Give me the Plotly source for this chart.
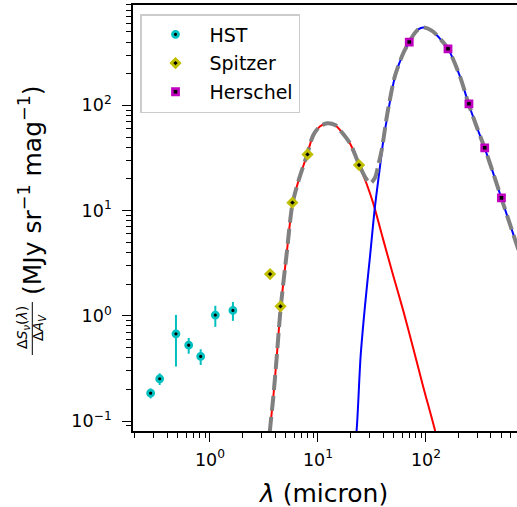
import plotly.graph_objects as go

# ---------------- data ----------------
hst_wave = [0.282, 0.342, 0.484, 0.635, 0.82, 1.12, 1.63]
hst_flux = [0.184, 0.252, 0.674, 0.526, 0.411, 1.015, 1.125]
hst_err = [0.02, 0.032, 0.345, 0.09, 0.07, 0.23, 0.23]

spitzer_wave = [3.6, 4.5, 5.8, 8.0, 24.0]
spitzer_flux = [2.49, 1.23, 11.9, 34.2, 27.1]

herschel_wave = [70, 160, 250, 350, 500]
herschel_flux = [400, 345, 103.5, 39.5, 13.2]

hot_wave = [3.45, 3.59, 3.86, 4.15, 4.51, 5.13, 5.8, 6.58, 7.85, 9.04, 10.4, 12.2,
            14.4, 16.0, 19.8, 24.1, 28.2, 32.5, 40.3, 49.8, 61.6, 76.3, 94.4, 121, 135]
hot_flux = [0.05, 0.082, 0.17, 0.408, 1.18, 3.9, 11.5, 19.0, 33.0, 52.0, 63.0, 67.5,
            65.0, 58.2, 43.5, 27.1, 18.0, 11.7, 5.24, 2.4, 1.12, 0.49, 0.211, 0.082, 0.05]

cold_wave = [21.5, 22.8, 24.8, 27.2, 30.3, 33.7, 37.5, 40.3, 43.3, 51.6, 61.6, 70, 76.3,
             84.9, 94.4, 105, 117, 130, 160, 206, 248, 295, 349, 420, 498, 720]
cold_flux = [0.05, 0.082, 0.408, 1.22, 3.64, 10.9, 26.1, 46.8, 72.5, 187, 312, 400, 466,
             528, 551, 535, 501, 449, 345, 190, 103.5, 62.6, 39.5, 22.6, 13.2, 4.2]

total_wave = [3.45, 3.59, 3.86, 4.15, 4.51, 5.13, 5.8, 6.58, 7.85, 9.04, 10.4, 12.2,
              14.4, 16.0, 19.8, 24.1, 27.2, 30.3, 33.7, 36.2, 38.9, 43.3, 45.7, 51.6,
              61.6, 70, 76.3, 84.9, 94.4, 105, 117, 130, 160, 206, 248, 295, 349, 420, 498, 720]
total_flux = [0.05, 0.082, 0.17, 0.408, 1.18, 3.9, 11.5, 19.0, 33.0, 52.0, 63.0, 67.5,
              65.0, 58.2, 43.5, 27.1, 21.0, 18.1, 20.5, 27.0, 37.6, 77.0, 105, 190,
              313, 401, 466, 528, 551, 535, 501, 449, 345, 190, 103.5, 62.6, 39.5, 22.6, 13.2, 4.2]

x_tickvals = [1, 10, 100]
x_ticktext = ["10<sup>0</sup>", "10<sup>1</sup>", "10<sup>2</sup>"]
y_tickvals = [0.1, 1, 10, 100]
y_ticktext = ["10<sup>\u22121</sup>", "10<sup>0</sup>", "10<sup>1</sup>", "10<sup>2</sup>"]

# ---------------- figure ----------------
W, H = 517, 507
ML, MR, MT, MB = 133, 0, 5, 76
PW, PH = W - ML - MR, H - MT - MB

def px_x(x):
    return (x - ML) / PW

def px_y(y):
    return (H - MB - y) / PH

FONT = "DejaVu Sans"
C_HST = "#00bfbf"
C_SPZ = "#bfbf00"
C_HER = "#bf00bf"

fig = go.Figure()

spl = 0.8
fig.add_trace(go.Scatter(x=hot_wave, y=hot_flux, mode="lines",
                         line=dict(color="#ff0000", width=2, shape="spline", smoothing=spl),
                         showlegend=False, hoverinfo="skip"))
fig.add_trace(go.Scatter(x=cold_wave, y=cold_flux, mode="lines",
                         line=dict(color="#0000ff", width=2, shape="spline", smoothing=spl),
                         showlegend=False, hoverinfo="skip"))
fig.add_trace(go.Scatter(x=total_wave, y=total_flux, mode="lines",
                         line=dict(color="#808080", width=4, dash="15px,6px", shape="spline", smoothing=spl),
                         showlegend=False, hoverinfo="skip"))

fig.add_trace(go.Scatter(x=hst_wave, y=hst_flux, mode="markers", name="HST", legendgroup="a",
                         marker=dict(symbol="circle", size=6, color="black", line=dict(color=C_HST, width=2.8)),
                         error_y=dict(type="data", array=hst_err, color=C_HST, thickness=2, width=0)))
fig.add_trace(go.Scatter(x=spitzer_wave, y=spitzer_flux, mode="markers", name="Spitzer", legendgroup="b",
                         marker=dict(symbol="diamond", size=6.4, color="black", line=dict(color=C_SPZ, width=2.8))))
fig.add_trace(go.Scatter(x=herschel_wave, y=herschel_flux, mode="markers", name="Herschel", legendgroup="c",
                         marker=dict(symbol="square", size=6.2, color="black", line=dict(color=C_HER, width=2.6))))

axis_common = dict(type="log", showgrid=False, zeroline=False, showline=True, linecolor="black",
                   linewidth=1.6, ticks="outside", ticklen=9, tickwidth=1.3, tickcolor="black",
                   tickfont=dict(family=FONT, size=17.5, color="black"), tickmode="array",
                   minor=dict(ticks="outside", ticklen=5, tickwidth=1.1, tickcolor="black", dtick="D1", showgrid=False))

fig.update_xaxes(range=[-0.713, 2.843], tickvals=x_tickvals, ticktext=x_ticktext, mirror=True,
                 ticklabelstandoff=3, **axis_common)
fig.update_yaxes(range=[-1.095, 2.954], tickvals=y_tickvals, ticktext=y_ticktext, mirror=False,
                 ticklabelstandoff=7, **axis_common)

annotations = [
    dict(text="<i>\u03bb</i> (micron)", x=px_x(323), y=px_y(493), xref="paper", yref="paper",
         showarrow=False, xanchor="center", yanchor="middle", font=dict(family=FONT, size=25, color="black")),
    dict(text="(MJy sr<sup>\u22121</sup> mag<sup>\u22121</sup>)", x=px_x(30), y=px_y(190), xref="paper", yref="paper",
         textangle=-90, showarrow=False, xanchor="center", yanchor="middle", font=dict(family=FONT, size=25, color="black")),
    dict(text="\u0394<i>S</i><sub><i>\u03bd</i></sub>(<i>\u03bb</i>)", x=px_x(23), y=px_y(328), xref="paper", yref="paper",
         textangle=-90, showarrow=False, xanchor="center", yanchor="middle", font=dict(family=FONT, size=14, color="black")),
    dict(text="\u0394<i>A</i><sub><i>V</i></sub>", x=px_x(39), y=px_y(328), xref="paper", yref="paper",
         textangle=-90, showarrow=False, xanchor="center", yanchor="middle", font=dict(family=FONT, size=14, color="black")),
]

shapes = [
    dict(type="line", xref="paper", yref="paper", x0=px_x(32.3), x1=px_x(32.3), y0=px_y(302), y1=px_y(355),
         line=dict(color="black", width=1)),
]

fig.update_layout(
    width=W, height=H, margin=dict(l=ML, r=MR, t=MT, b=MB, pad=0),
    paper_bgcolor="white", plot_bgcolor="white",
    font=dict(family=FONT, size=16, color="black"),
    annotations=annotations, shapes=shapes,
    legend=dict(x=px_x(140), y=px_y(14), xanchor="left", yanchor="top",
                bgcolor="rgba(255,255,255,0.8)", bordercolor="#cccccc", borderwidth=1.5,
                font=dict(family=FONT, size=19, color="black"), tracegroupgap=1, itemwidth=58),
)

fig.write_html("out.html", config={"displayModeBar": False},
               post_script="document.body.style.margin='0px';document.body.style.padding='0px';"
                           "document.body.style.overflow='hidden';")
